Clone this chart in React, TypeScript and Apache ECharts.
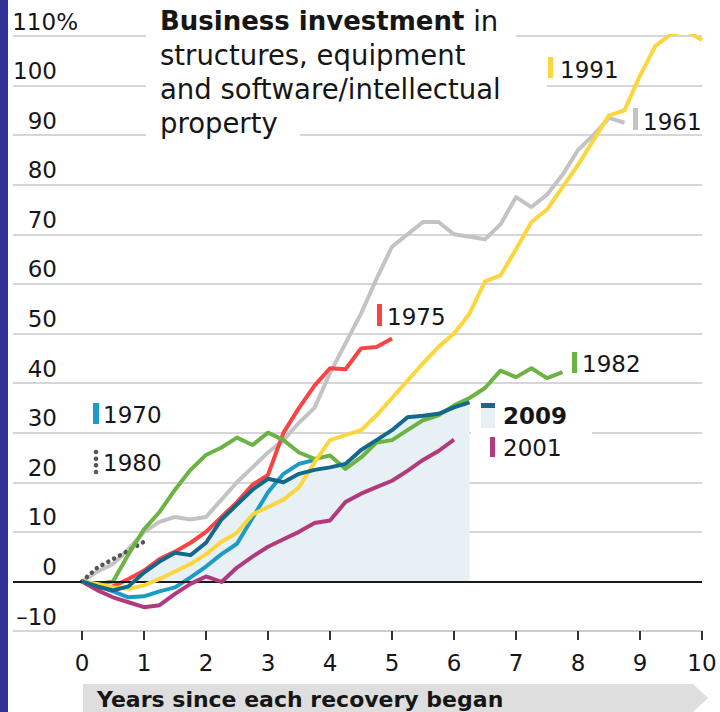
import React, { useEffect, useRef } from "react";
import * as echarts from "echarts";

// Quarterly values (% change in business investment since each recovery began)
const y1961 = [0, 2, 3.5, 6.5, 10, 12, 13, 12.5, 13, 16.5, 20, 23, 26, 28.5, 32, 35, 42, 48, 54, 61, 67.5, 70, 72.5, 72.5, 70, 69.5, 69, 72, 77.5, 75.5, 78, 82, 87, 90, 93.5, 92.5];
const y1970 = [0, -1, -2, -3.2, -3, -2, -1.2, 0.8, 3, 5.5, 7.6, 12.8, 18, 21.7, 23.7, 24.5];
const y1975 = [0, -1.5, -1, 0.5, 2.2, 4.5, 6, 7.8, 10, 13, 16, 19.5, 21.5, 30, 35, 39.5, 43, 42.8, 47, 47.3, 49];
const y1980 = [0, 2.8, 4.5, 6.2, 8];
const y1982 = [0, -0.5, 0, 5.5, 10.5, 14, 18.5, 22.5, 25.5, 27, 29, 27.5, 30, 28.5, 26, 24.7, 25.4, 22.7, 25, 28, 28.5, 30.5, 32.5, 33.5, 35.5, 37, 39, 42.5, 41.2, 43, 41, 42.2];
const y1991 = [0, -0.5, -1.2, -1.5, -0.8, 0.5, 2, 3.5, 5.5, 8, 9.8, 13.5, 15, 16.5, 19, 24, 28.5, 29.5, 30.5, 33.5, 37, 40.5, 44, 47.3, 50, 54, 60.5, 61.7, 67, 72.5, 75, 79.5, 84, 89, 94, 95, 102, 108, 110.4, 111, 109.2];
const y2001 = [0, -1.8, -3.2, -4.2, -5.2, -4.8, -2.5, -0.5, 1, -0.1, 2.8, 5, 7, 8.5, 10, 11.8, 12.3, 16, 17.7, 19, 20.3, 22.3, 24.5, 26.3, 28.6];
const y2009 = [0, -1, -1.8, -1, 1.8, 4, 5.8, 5.3, 7.8, 12.5, 15.5, 18.5, 20.7, 20, 21.7, 22.5, 23, 23.7, 26.5, 28.5, 30.5, 33.1, 33.4, 33.8, 35.1, 36.1];

const xMin = 0;
const xMax = 10;
const xStep = 1;
const yMin = -10;
const yMax = 110;
const yStep = 10;

const FONT = "DejaVu Sans";
const TXT = "#161616";
const C = {
  c1961: "#c3c3c3",
  c1970: "#1b9bc5",
  c1975: "#f84444",
  c1980: "#555555",
  c1982: "#6cb343",
  c1991: "#fcd63c",
  c2001: "#b23a7c",
  c2009: "#12698a",
  fill: "#e7f0f5",
  grid: "#c9c9c9",
};

const toPoints = (vals: number[]) => vals.map((v, i) => [i / 4, v]);

const lineSeries = (name: string, vals: number[], color: string, z: number, extra: any = {}) => ({
  type: "line",
  name,
  xAxisIndex: 0,
  yAxisIndex: 0,
  data: toPoints(vals),
  symbol: "none",
  silent: true,
  z,
  lineStyle: { color, width: 4, join: "round" },
  ...extra,
});

const label = (text: string, x: number, y: number, bold = false) => ({
  type: "text",
  x,
  y,
  z: 20,
  style: {
    text,
    fill: TXT,
    fontFamily: FONT,
    fontSize: 23,
    fontWeight: bold ? "bold" : "normal",
    verticalAlign: "middle",
    align: "left",
  },
});

const bar = (x: number, y: number, w: number, h: number, color: string) => ({
  type: "rect",
  z: 20,
  shape: { x, y, width: w, height: h },
  style: { fill: color },
});

export default function App() {
  const ref = useRef<HTMLDivElement>(null);

  useEffect(() => {
    document.body.style.margin = "0";
    const chart = echarts.init(ref.current!, undefined, { renderer: "svg", width: 720, height: 712 });
    const option: any = {
      animation: false,
      backgroundColor: "#ffffff",
      grid: [
        { left: 13, right: 18, top: 36, bottom: 81, containLabel: false },
        { left: 82, right: 18, top: 36, bottom: 81, containLabel: false },
      ],
      xAxis: [
        {
          gridIndex: 0,
          type: "value",
          min: -69 / 62,
          max: xMax,
          show: false,
        },
        {
          gridIndex: 1,
          type: "value",
          min: xMin,
          max: xMax,
          interval: xStep,
          axisLine: { show: true, onZero: false, lineStyle: { color: C.grid, width: 1.5 } },
          splitLine: { show: false },
          axisTick: { show: true, length: 9, lineStyle: { color: "#333", width: 2 } },
          axisLabel: { margin: 20, fontSize: 23, color: TXT, fontFamily: FONT },
        },
      ],
      yAxis: [
        {
          gridIndex: 0,
          type: "value",
          min: yMin,
          max: yMax,
          interval: yStep,
          axisLine: { show: false },
          axisTick: { show: false },
          splitLine: { show: true, lineStyle: { color: C.grid, width: 1.5 } },
          axisLabel: {
            inside: true,
            align: "right",
            verticalAlign: "bottom",
            margin: 65,
            formatter: (v: number) => (v === 110 ? "{p|110%}" : `{n|${v < 0 ? "\u2013" + Math.abs(v) : v}}`),
            rich: {
              n: { fontSize: 23, fontFamily: FONT, color: TXT, padding: [0, 21, 3, 0] },
              p: { fontSize: 23, fontFamily: FONT, color: TXT, padding: [0, 0, 3, 0] },
            },
          },
        },
        { gridIndex: 1, type: "value", min: yMin, max: yMax, interval: yStep, show: false },
      ],
      series: [
        {
          type: "line",
          name: "2009 area",
          xAxisIndex: 0,
          yAxisIndex: 0,
          data: toPoints(y2009),
          symbol: "none",
          silent: true,
          z: 1,
          lineStyle: { width: 0, opacity: 0 },
          areaStyle: { color: C.fill, opacity: 1 },
          markLine: {
            silent: true,
            symbol: ["none", "none"],
            label: { show: false },
            lineStyle: { color: "#1a1a1a", width: 2, type: "solid" },
            data: [{ yAxis: 0 }],
          },
        },
        lineSeries("1961", y1961, C.c1961, 2),
        lineSeries("1980", y1980, C.c1980, 3, {
          lineStyle: { color: C.c1980, width: 4.5, type: [0.01, 6.6], cap: "round" },
        }),
        lineSeries("1970", y1970, C.c1970, 3),
        lineSeries("1975", y1975, C.c1975, 4),
        lineSeries("1982", y1982, C.c1982, 4),
        lineSeries("2001", y2001, C.c2001, 5),
        lineSeries("1991", y1991, C.c1991, 5),
        lineSeries("2009", y2009, C.c2009, 6),
      ],
      graphic: [
        // knock-outs behind title
        { type: "rect", z: 1, shape: { x: 146, y: 0, width: 370, height: 60 }, style: { fill: "#fff" } },
        { type: "rect", z: 1, shape: { x: 146, y: 60, width: 401, height: 40 }, style: { fill: "#fff" } },
        { type: "rect", z: 1, shape: { x: 146, y: 100, width: 154, height: 45 }, style: { fill: "#fff" } },
        // knock-out behind 2009 / 2001 labels
        { type: "rect", z: 1, shape: { x: 471, y: 395, width: 121, height: 70 }, style: { fill: "#fff" } },
        {
          type: "text",
          x: 160,
          y: 4,
          z: 20,
          style: {
            text: "{b|Business investment}{r| in}\n{r|structures, equipment}\n{r|and software/intellectual}\n{r|property}",
            fill: TXT,
            fontFamily: FONT,
            fontSize: 28,
            lineHeight: 34,
            verticalAlign: "top",
            rich: {
              b: { fontFamily: FONT, fontSize: 26, fontWeight: "bold", lineHeight: 34, fill: TXT },
              r: { fontFamily: FONT, fontSize: 27.5, lineHeight: 34, fill: TXT },
            },
          },
        },
        // series labels
        bar(548, 57, 5, 21, C.c1991),
        label("1991", 560, 70),
        bar(633, 108, 5, 22, C.c1961),
        label("1961", 643, 121.5),
        bar(377, 304, 5, 22, C.c1975),
        label("1975", 387, 317),
        bar(572, 352, 5, 21, C.c1982),
        label("1982", 582, 364),
        bar(481, 403, 14, 5, C.c2009),
        bar(481, 408, 14, 20, C.fill),
        label("2009", 503, 415.5, true),
        bar(490, 437, 5, 20, C.c2001),
        label("2001", 503, 448),
        bar(93, 403, 6, 21, C.c1970),
        label("1970", 103, 415),
        ...[452, 458.7, 465.3, 472].map((cy) => ({
          type: "circle",
          z: 20,
          shape: { cx: 96, cy, r: 2.3 },
          style: { fill: C.c1980 },
        })),
        label("1980", 103, 463),
        // bottom axis title bar
        {
          type: "polygon",
          z: 5,
          shape: { points: [[83, 684], [693, 684], [708, 698], [693, 712], [83, 712]] },
          style: { fill: "#dedede" },
        },
        {
          type: "text",
          x: 97,
          y: 699,
          z: 20,
          style: {
            text: "Years since each recovery began",
            fill: TXT,
            fontFamily: FONT,
            fontSize: 22,
            fontWeight: "bold",
            verticalAlign: "middle",
          },
        },
        // left edge band
        { type: "rect", z: 30, shape: { x: 0, y: 0, width: 8, height: 712 }, style: { fill: "#323296" } },
      ],
    };
    chart.setOption(option);
    return () => chart.dispose();
  }, []);

  return (
    <div
      ref={ref}
      style={{ position: "fixed", left: 0, top: 0, width: 720, height: 712, background: "#fff" }}
    />
  );
}
